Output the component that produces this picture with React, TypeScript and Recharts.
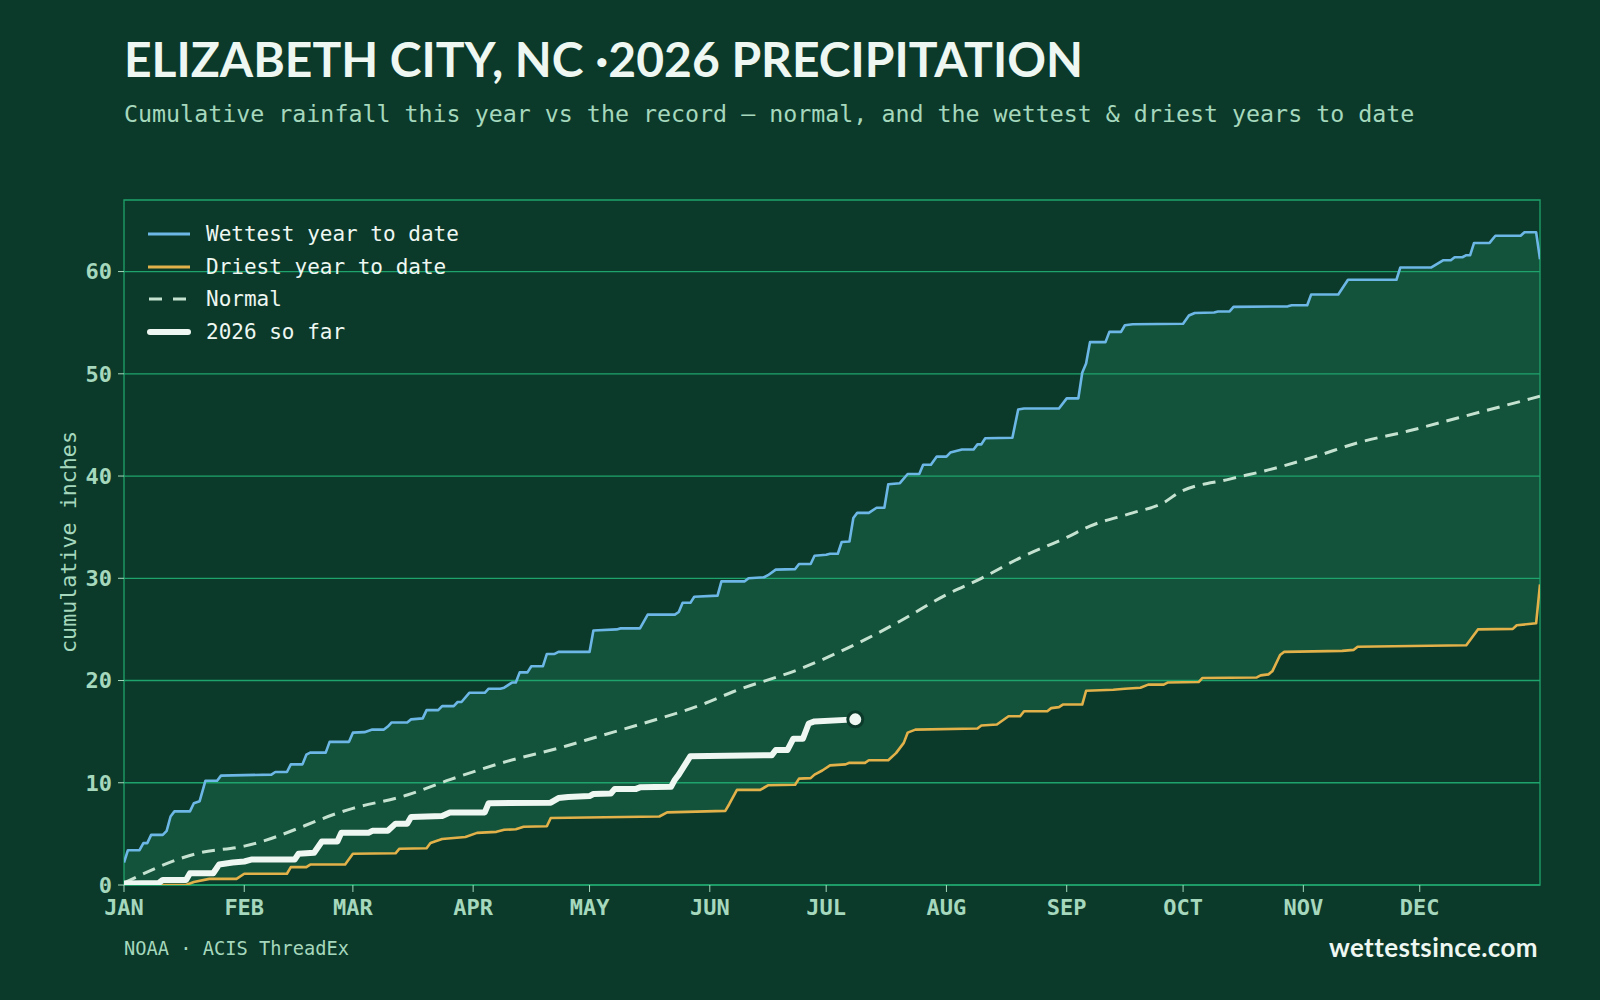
import React from "react";
import {
  ComposedChart,
  Area,
  Line,
  XAxis,
  YAxis,
  ReferenceLine,
  ReferenceArea,
  ReferenceDot,
} from "recharts";

// [day of year (0 = Jan 1), cumulative inches]
const WETTEST: [number, number][] = [
  [0, 2.2], [1, 3.4], [4, 3.4], [5, 4.1], [6, 4.1], [7, 4.9], [10, 4.9], [11, 5.3], [12, 6.7], [13, 7.2],
  [17, 7.2], [18, 8.0], [19.5, 8.2], [21, 10.2], [24, 10.2], [25, 10.7], [38, 10.8], [39, 11.05], [42, 11.05],
  [43, 11.8], [46, 11.8], [47, 12.75], [48, 12.95], [52, 12.95], [53, 14.0], [58, 14.0], [59, 14.9], [62, 14.95],
  [64, 15.2], [67, 15.2], [68, 15.5], [69, 15.9], [73, 15.9], [74, 16.2], [77, 16.3], [78, 17.1], [81, 17.1],
  [82, 17.5], [85, 17.5], [86, 17.9], [87, 17.9], [89, 18.8], [93, 18.8], [94, 19.2], [97, 19.2], [98, 19.3],
  [100, 19.8], [101, 19.8], [102, 20.8], [104, 20.8], [105, 21.4], [108, 21.4], [109, 22.6], [111, 22.6],
  [112, 22.8], [120, 22.8], [121, 24.9], [127, 25.0], [128, 25.1], [133, 25.1], [135, 26.45], [142, 26.45],
  [143, 26.7], [144, 27.6], [146, 27.6], [147, 28.2], [153, 28.3], [154, 29.7], [160, 29.7], [161, 30.0],
  [165, 30.1], [166, 30.3], [168, 30.85], [173, 30.9], [174, 31.4], [177, 31.4], [178, 32.2], [181, 32.3],
  [182, 32.4], [184, 32.4], [185, 33.55], [187, 33.6], [188, 35.9], [189, 36.4], [192, 36.4], [194, 36.9],
  [196, 36.9], [197, 39.2], [200, 39.3], [202, 40.2], [205, 40.2], [206, 41.1], [208, 41.1], [209.5, 41.9],
  [212, 41.9], [213, 42.3], [216, 42.6], [219, 42.6], [220, 43.1], [221, 43.1], [222, 43.7], [229, 43.75],
  [230.5, 46.5], [232, 46.6], [241, 46.6], [243, 47.6], [246, 47.6], [247, 50.1], [248, 51.0], [249, 53.1],
  [253, 53.1], [254, 54.1], [257, 54.1], [258, 54.75], [260, 54.85], [273, 54.9], [274.5, 55.7], [276, 55.95],
  [281, 56.0], [282, 56.1], [285, 56.1], [286, 56.55], [300, 56.6], [301, 56.7], [305, 56.7], [306, 57.75],
  [313, 57.75], [315.5, 59.2], [328, 59.2], [329, 60.4], [337, 60.4], [340, 61.1], [342, 61.1], [343, 61.4],
  [345, 61.4], [346, 61.6], [347, 61.6], [348, 62.8], [352, 62.8], [353.5, 63.5], [360, 63.5], [361, 63.85],
  [364, 63.85], [365, 61.2],
];

const DRIEST: [number, number][] = [
  [0, 0], [16, 0], [18, 0.3], [22, 0.6], [29, 0.6], [31, 1.1], [42, 1.1], [43, 1.75], [47, 1.75], [48, 2.0],
  [57, 2.0], [59, 3.05], [70, 3.1], [71, 3.55], [78, 3.6], [79, 4.1], [82, 4.5], [85, 4.6], [88, 4.7],
  [91, 5.1], [96, 5.2], [98, 5.4], [101, 5.45], [103, 5.7], [109, 5.75], [110, 6.55], [138, 6.7], [140, 7.1],
  [155, 7.25], [156, 7.9], [158, 9.3], [164, 9.3], [166, 9.75], [173, 9.8], [174, 10.4], [177, 10.45],
  [178, 10.8], [180, 11.2], [182, 11.7], [186, 11.8], [187, 11.95], [191, 11.95], [192, 12.2], [197, 12.2],
  [199, 12.9], [201, 13.9], [202, 14.9], [204, 15.2], [220, 15.3], [221, 15.6], [225, 15.7], [228, 16.5],
  [231, 16.5], [232, 17.0], [238, 17.0], [239, 17.3], [241, 17.4], [242, 17.65], [247, 17.65], [248, 19.0],
  [255, 19.1], [258, 19.2], [262, 19.3], [264, 19.6], [268, 19.6], [269, 19.8], [277, 19.85], [278, 20.25],
  [292, 20.3], [293, 20.5], [295, 20.6], [296, 20.9], [298, 22.5], [299, 22.8], [314, 22.9], [317, 23.0],
  [318, 23.3], [346, 23.45], [349, 25.0], [358, 25.05], [359, 25.4], [364, 25.6], [365, 29.4],
];

const NORMAL: [number, number][] = [
  [0, 0.2], [19, 3.1], [31, 3.8], [59, 7.5], [73, 8.8], [84, 10.3], [97, 11.9], [114, 13.6], [122, 14.5],
  [132, 15.6], [150, 17.8], [157, 18.9], [174, 21.1], [191, 24.0], [200, 25.8], [212, 28.4], [221, 30.0],
  [231, 32.0], [243, 34.0], [249, 35.1], [260, 36.4], [268, 37.4], [272, 38.4], [285, 39.7], [295, 40.6],
  [307, 41.9], [318, 43.25], [331, 44.4], [344, 45.7], [355, 46.8], [365, 47.8],
];

const THIS_YEAR: [number, number][] = [
  [0, 0.15], [9, 0.2], [10, 0.5], [16, 0.5], [17, 1.15], [23, 1.15], [24.5, 2.0], [28, 2.2], [31, 2.3],
  [33, 2.5], [44, 2.5], [45, 3.05], [49, 3.15], [51, 4.25], [55, 4.25], [56, 5.1], [63, 5.1], [64, 5.3],
  [68, 5.3], [70, 6.0], [73, 6.0], [74, 6.65], [82, 6.75], [84, 7.1], [93, 7.1], [94, 8.0], [110, 8.05],
  [112, 8.5], [114.5, 8.6], [120, 8.7], [121, 8.9], [125.5, 8.95], [126.5, 9.4], [132, 9.4], [133, 9.55],
  [141, 9.6], [142, 10.3], [143, 10.8], [146, 12.6], [167, 12.7], [168, 13.2], [171, 13.2], [172.5, 14.3],
  [175, 14.3], [176.5, 15.8], [178, 16.0], [188.5, 16.2],
];

const MONTH_STARTS = [0, 31, 59, 90, 120, 151, 181, 212, 243, 273, 304, 334];
const MONTH_LABELS = ["JAN", "FEB", "MAR", "APR", "MAY", "JUN", "JUL", "AUG", "SEP", "OCT", "NOV", "DEC"];
const Y_TICKS = [0, 10, 20, 30, 40, 50, 60];

const BG = "#0b3a2a";
const BAND = "#13523b";
const GRID = "#1fa36c";
const SOFT = "#a6d8bd";
const INK = "#eef7f1";
const WET = "#6cb7e6";
const DRY = "#e2b14a";
const NORM = "#c5e2d0";
const MONO = "'DejaVu Sans Mono', monospace";
const SANS = "Lato, 'Open Sans', sans-serif";

const rows = (pts: [number, number][]) => pts.map(([day, inches]) => ({ day, inches }));

const wetRows = rows(WETTEST);
const dryRows = rows(DRIEST);
const normRows = rows(NORMAL);
const yearRows = rows(THIS_YEAR);
const today = yearRows[yearRows.length - 1];

function LegendSwatch({ kind }: { kind: string }) {
  if (kind === "wet") return <svg width={46} height={10}><line x1={2} y1={5} x2={44} y2={5} stroke={WET} strokeWidth={3} /></svg>;
  if (kind === "dry") return <svg width={46} height={10}><line x1={2} y1={5} x2={44} y2={5} stroke={DRY} strokeWidth={3} /></svg>;
  if (kind === "norm")
    return <svg width={46} height={10}><line x1={3} y1={5} x2={44} y2={5} stroke={NORM} strokeWidth={3} strokeDasharray="13 11" /></svg>;
  return <svg width={46} height={10}><line x1={4} y1={5} x2={42} y2={5} stroke={INK} strokeWidth={6} strokeLinecap="round" /></svg>;
}

const LEGEND = [
  { kind: "wet", label: "Wettest year to date" },
  { kind: "dry", label: "Driest year to date" },
  { kind: "norm", label: "Normal" },
  { kind: "year", label: "2026 so far" },
];

export default function App() {
  return (
    <div style={{ position: "absolute", left: 0, top: 0, width: 1600, height: 1000, background: BG, overflow: "hidden" }}>
      <div style={{ position: "absolute", left: 124, top: 30, fontFamily: SANS, fontWeight: 700, fontSize: 48, color: INK, whiteSpace: "nowrap" }}>
        ELIZABETH CITY, NC ·2026 PRECIPITATION
      </div>
      <div style={{ position: "absolute", left: 124, top: 100, fontFamily: MONO, fontSize: 23.3, color: SOFT, whiteSpace: "nowrap" }}>
        Cumulative rainfall this year vs the record — normal, and the wettest &amp; driest years to date
      </div>

      <div style={{ position: "absolute", left: 0, top: 0 }}>
        <ComposedChart width={1600} height={1000} margin={{ top: 200, right: 60, bottom: 75, left: 64 }}>
          <XAxis
            type="number"
            dataKey="day"
            domain={[0, 365]}
            ticks={MONTH_STARTS}
            tickFormatter={(d: number) => MONTH_LABELS[MONTH_STARTS.indexOf(d)]}
            height={40}
            axisLine={false}
            tickSize={7}
            tickMargin={7}
            tickLine={{ stroke: SOFT, strokeWidth: 1 }}
            tick={{ fill: SOFT, fontFamily: MONO, fontWeight: 700, fontSize: 22 }}
            allowDataOverflow
          />
          <YAxis
            type="number"
            dataKey="inches"
            domain={[0, 67]}
            ticks={Y_TICKS}
            width={60}
            axisLine={false}
            tickSize={6}
            tickMargin={6}
            tickLine={{ stroke: SOFT, strokeWidth: 1 }}
            tick={{ fill: SOFT, fontFamily: MONO, fontWeight: 700, fontSize: 22 }}
            allowDataOverflow
          />

          {/* band between wettest and driest: fill under wettest, then mask under driest */}
          <Area data={wetRows} dataKey="inches" type="linear" stroke="none" fill={BAND} fillOpacity={1} isAnimationActive={false} activeDot={false} />
          <Area data={dryRows} dataKey="inches" type="linear" stroke="none" fill={BG} fillOpacity={1} isAnimationActive={false} activeDot={false} />

          {Y_TICKS.map((t) => (
            <ReferenceLine key={t} y={t} stroke={GRID} strokeWidth={1.3} />
          ))}
          <ReferenceArea x1={0} x2={365} y1={0} y2={67} fill="none" stroke={GRID} strokeWidth={1.3} />

          <Line data={normRows} dataKey="inches" type="monotone" stroke={NORM} strokeWidth={3} strokeDasharray="13 8" dot={false} isAnimationActive={false} />
          <Line data={wetRows} dataKey="inches" type="linear" stroke={WET} strokeWidth={2.6} strokeLinejoin="round" dot={false} isAnimationActive={false} />
          <Line data={dryRows} dataKey="inches" type="linear" stroke={DRY} strokeWidth={2.6} strokeLinejoin="round" dot={false} isAnimationActive={false} />
          <Line data={yearRows} dataKey="inches" type="linear" stroke={INK} strokeWidth={6} strokeLinejoin="round" strokeLinecap="round" dot={false} isAnimationActive={false} />
          <ReferenceDot x={today.day} y={today.inches} r={7.5} fill={INK} stroke={BG} strokeWidth={3} />
        </ComposedChart>
      </div>

      <div style={{ position: "absolute", left: 146, top: 218 }}>
        {LEGEND.map((item) => (
          <div key={item.kind} style={{ display: "flex", alignItems: "center", height: 32.5 }}>
            <LegendSwatch kind={item.kind} />
            <span style={{ marginLeft: 14, fontFamily: MONO, fontSize: 21, color: INK, whiteSpace: "pre" }}>{item.label}</span>
          </div>
        ))}
      </div>

      <div
        style={{
          position: "absolute",
          left: 68,
          top: 542,
          transform: "translate(-50%, -50%) rotate(-90deg)",
          fontFamily: MONO,
          fontSize: 21.7,
          color: SOFT,
          whiteSpace: "nowrap",
        }}
      >
        cumulative inches
      </div>

      <div style={{ position: "absolute", left: 124, top: 938, fontFamily: MONO, fontSize: 18.7, color: SOFT, whiteSpace: "nowrap" }}>
        NOAA · ACIS ThreadEx
      </div>
      <div style={{ position: "absolute", right: 62, top: 931, fontFamily: SANS, fontWeight: 700, fontSize: 26, letterSpacing: 0.4, color: INK, whiteSpace: "nowrap" }}>
        wettestsince.com
      </div>
    </div>
  );
}
